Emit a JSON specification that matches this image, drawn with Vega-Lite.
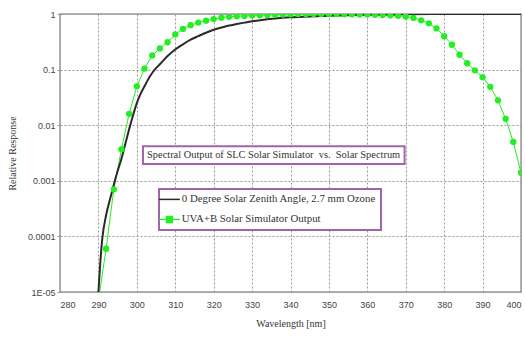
{
  "$schema": "https://vega.github.io/schema/vega-lite/v6.json",
  "width": 461,
  "height": 278,
  "autosize": "none",
  "padding": {"left": 60, "top": 14, "right": 4, "bottom": 45},
  "background": "white",
  "config": {
    "view": {"stroke": "#999", "strokeWidth": 1.5},
    "axis": {
      "grid": true,
      "gridColor": "#999",
      "gridDash": [2, 2],
      "gridWidth": 1,
      "domain": false,
      "tickColor": "#999",
      "tickSize": 3,
      "labelFont": "Liberation Sans",
      "labelFontSize": 9,
      "labelColor": "#444",
      "titleFont": "Liberation Serif",
      "titleFontWeight": "normal",
      "titleFontSize": 10,
      "titleColor": "#333"
    },
    "legend": {
      "orient": "none",
      "legendX": 99,
      "legendY": 175,
      "strokeColor": "#a064ac",
      "fillColor": "white",
      "padding": 5,
      "labelFont": "Liberation Serif",
      "labelFontSize": 10.8,
      "labelColor": "#333",
      "labelLimit": 400,
      "labelOffset": 7,
      "symbolSize": 441,
      "rowPadding": 8
    }
  },
  "datasets": {
    "curves": [
      {"wavelength": 290, "response": 0.00001, "series": "0 Degree Solar Zenith Angle, 2.7 mm Ozone"},
      {"wavelength": 290.5, "response": 0.000035, "series": "0 Degree Solar Zenith Angle, 2.7 mm Ozone"},
      {"wavelength": 291, "response": 0.00009, "series": "0 Degree Solar Zenith Angle, 2.7 mm Ozone"},
      {"wavelength": 292, "response": 0.00024, "series": "0 Degree Solar Zenith Angle, 2.7 mm Ozone"},
      {"wavelength": 293, "response": 0.00046, "series": "0 Degree Solar Zenith Angle, 2.7 mm Ozone"},
      {"wavelength": 294, "response": 0.00085, "series": "0 Degree Solar Zenith Angle, 2.7 mm Ozone"},
      {"wavelength": 295, "response": 0.0015, "series": "0 Degree Solar Zenith Angle, 2.7 mm Ozone"},
      {"wavelength": 296, "response": 0.0025, "series": "0 Degree Solar Zenith Angle, 2.7 mm Ozone"},
      {"wavelength": 297, "response": 0.0046, "series": "0 Degree Solar Zenith Angle, 2.7 mm Ozone"},
      {"wavelength": 298, "response": 0.0085, "series": "0 Degree Solar Zenith Angle, 2.7 mm Ozone"},
      {"wavelength": 299, "response": 0.015, "series": "0 Degree Solar Zenith Angle, 2.7 mm Ozone"},
      {"wavelength": 300, "response": 0.025, "series": "0 Degree Solar Zenith Angle, 2.7 mm Ozone"},
      {"wavelength": 301, "response": 0.037, "series": "0 Degree Solar Zenith Angle, 2.7 mm Ozone"},
      {"wavelength": 302, "response": 0.05, "series": "0 Degree Solar Zenith Angle, 2.7 mm Ozone"},
      {"wavelength": 303, "response": 0.068, "series": "0 Degree Solar Zenith Angle, 2.7 mm Ozone"},
      {"wavelength": 304, "response": 0.087, "series": "0 Degree Solar Zenith Angle, 2.7 mm Ozone"},
      {"wavelength": 305, "response": 0.106, "series": "0 Degree Solar Zenith Angle, 2.7 mm Ozone"},
      {"wavelength": 306, "response": 0.125, "series": "0 Degree Solar Zenith Angle, 2.7 mm Ozone"},
      {"wavelength": 308, "response": 0.175, "series": "0 Degree Solar Zenith Angle, 2.7 mm Ozone"},
      {"wavelength": 310, "response": 0.23, "series": "0 Degree Solar Zenith Angle, 2.7 mm Ozone"},
      {"wavelength": 312, "response": 0.285, "series": "0 Degree Solar Zenith Angle, 2.7 mm Ozone"},
      {"wavelength": 314, "response": 0.345, "series": "0 Degree Solar Zenith Angle, 2.7 mm Ozone"},
      {"wavelength": 316, "response": 0.4, "series": "0 Degree Solar Zenith Angle, 2.7 mm Ozone"},
      {"wavelength": 318, "response": 0.46, "series": "0 Degree Solar Zenith Angle, 2.7 mm Ozone"},
      {"wavelength": 320, "response": 0.52, "series": "0 Degree Solar Zenith Angle, 2.7 mm Ozone"},
      {"wavelength": 322, "response": 0.57, "series": "0 Degree Solar Zenith Angle, 2.7 mm Ozone"},
      {"wavelength": 324, "response": 0.62, "series": "0 Degree Solar Zenith Angle, 2.7 mm Ozone"},
      {"wavelength": 326, "response": 0.66, "series": "0 Degree Solar Zenith Angle, 2.7 mm Ozone"},
      {"wavelength": 328, "response": 0.7, "series": "0 Degree Solar Zenith Angle, 2.7 mm Ozone"},
      {"wavelength": 330, "response": 0.74, "series": "0 Degree Solar Zenith Angle, 2.7 mm Ozone"},
      {"wavelength": 333, "response": 0.79, "series": "0 Degree Solar Zenith Angle, 2.7 mm Ozone"},
      {"wavelength": 336, "response": 0.83, "series": "0 Degree Solar Zenith Angle, 2.7 mm Ozone"},
      {"wavelength": 340, "response": 0.87, "series": "0 Degree Solar Zenith Angle, 2.7 mm Ozone"},
      {"wavelength": 345, "response": 0.9, "series": "0 Degree Solar Zenith Angle, 2.7 mm Ozone"},
      {"wavelength": 350, "response": 0.93, "series": "0 Degree Solar Zenith Angle, 2.7 mm Ozone"},
      {"wavelength": 355, "response": 0.95, "series": "0 Degree Solar Zenith Angle, 2.7 mm Ozone"},
      {"wavelength": 360, "response": 0.97, "series": "0 Degree Solar Zenith Angle, 2.7 mm Ozone"},
      {"wavelength": 365, "response": 0.98, "series": "0 Degree Solar Zenith Angle, 2.7 mm Ozone"},
      {"wavelength": 370, "response": 0.99, "series": "0 Degree Solar Zenith Angle, 2.7 mm Ozone"},
      {"wavelength": 380, "response": 1.0, "series": "0 Degree Solar Zenith Angle, 2.7 mm Ozone"},
      {"wavelength": 390, "response": 1.0, "series": "0 Degree Solar Zenith Angle, 2.7 mm Ozone"},
      {"wavelength": 400, "response": 1.0, "series": "0 Degree Solar Zenith Angle, 2.7 mm Ozone"},
      {"wavelength": 290, "response": 0.000007, "series": "UVA+B Solar Simulator Output"},
      {"wavelength": 292, "response": 0.00006, "series": "UVA+B Solar Simulator Output"},
      {"wavelength": 294, "response": 0.0007, "series": "UVA+B Solar Simulator Output"},
      {"wavelength": 296, "response": 0.0037, "series": "UVA+B Solar Simulator Output"},
      {"wavelength": 298, "response": 0.016, "series": "UVA+B Solar Simulator Output"},
      {"wavelength": 300, "response": 0.05, "series": "UVA+B Solar Simulator Output"},
      {"wavelength": 302, "response": 0.104, "series": "UVA+B Solar Simulator Output"},
      {"wavelength": 304, "response": 0.18, "series": "UVA+B Solar Simulator Output"},
      {"wavelength": 306, "response": 0.24, "series": "UVA+B Solar Simulator Output"},
      {"wavelength": 308, "response": 0.31, "series": "UVA+B Solar Simulator Output"},
      {"wavelength": 310, "response": 0.43, "series": "UVA+B Solar Simulator Output"},
      {"wavelength": 312, "response": 0.54, "series": "UVA+B Solar Simulator Output"},
      {"wavelength": 314, "response": 0.63, "series": "UVA+B Solar Simulator Output"},
      {"wavelength": 316, "response": 0.7, "series": "UVA+B Solar Simulator Output"},
      {"wavelength": 318, "response": 0.76, "series": "UVA+B Solar Simulator Output"},
      {"wavelength": 320, "response": 0.81, "series": "UVA+B Solar Simulator Output"},
      {"wavelength": 322, "response": 0.86, "series": "UVA+B Solar Simulator Output"},
      {"wavelength": 324, "response": 0.89, "series": "UVA+B Solar Simulator Output"},
      {"wavelength": 326, "response": 0.91, "series": "UVA+B Solar Simulator Output"},
      {"wavelength": 328, "response": 0.92, "series": "UVA+B Solar Simulator Output"},
      {"wavelength": 330, "response": 0.94, "series": "UVA+B Solar Simulator Output"},
      {"wavelength": 332, "response": 0.95, "series": "UVA+B Solar Simulator Output"},
      {"wavelength": 334, "response": 0.96, "series": "UVA+B Solar Simulator Output"},
      {"wavelength": 336, "response": 0.97, "series": "UVA+B Solar Simulator Output"},
      {"wavelength": 338, "response": 0.98, "series": "UVA+B Solar Simulator Output"},
      {"wavelength": 340, "response": 0.99, "series": "UVA+B Solar Simulator Output"},
      {"wavelength": 342, "response": 1.0, "series": "UVA+B Solar Simulator Output"},
      {"wavelength": 344, "response": 1.0, "series": "UVA+B Solar Simulator Output"},
      {"wavelength": 346, "response": 1.0, "series": "UVA+B Solar Simulator Output"},
      {"wavelength": 348, "response": 1.0, "series": "UVA+B Solar Simulator Output"},
      {"wavelength": 350, "response": 1.0, "series": "UVA+B Solar Simulator Output"},
      {"wavelength": 352, "response": 1.0, "series": "UVA+B Solar Simulator Output"},
      {"wavelength": 354, "response": 0.99, "series": "UVA+B Solar Simulator Output"},
      {"wavelength": 356, "response": 0.99, "series": "UVA+B Solar Simulator Output"},
      {"wavelength": 358, "response": 0.98, "series": "UVA+B Solar Simulator Output"},
      {"wavelength": 360, "response": 0.98, "series": "UVA+B Solar Simulator Output"},
      {"wavelength": 362, "response": 0.97, "series": "UVA+B Solar Simulator Output"},
      {"wavelength": 364, "response": 0.96, "series": "UVA+B Solar Simulator Output"},
      {"wavelength": 366, "response": 0.95, "series": "UVA+B Solar Simulator Output"},
      {"wavelength": 368, "response": 0.93, "series": "UVA+B Solar Simulator Output"},
      {"wavelength": 370, "response": 0.9, "series": "UVA+B Solar Simulator Output"},
      {"wavelength": 372, "response": 0.85, "series": "UVA+B Solar Simulator Output"},
      {"wavelength": 374, "response": 0.77, "series": "UVA+B Solar Simulator Output"},
      {"wavelength": 376, "response": 0.68, "series": "UVA+B Solar Simulator Output"},
      {"wavelength": 378, "response": 0.55, "series": "UVA+B Solar Simulator Output"},
      {"wavelength": 380, "response": 0.4, "series": "UVA+B Solar Simulator Output"},
      {"wavelength": 382, "response": 0.28, "series": "UVA+B Solar Simulator Output"},
      {"wavelength": 384, "response": 0.185, "series": "UVA+B Solar Simulator Output"},
      {"wavelength": 386, "response": 0.13, "series": "UVA+B Solar Simulator Output"},
      {"wavelength": 388, "response": 0.097, "series": "UVA+B Solar Simulator Output"},
      {"wavelength": 390, "response": 0.073, "series": "UVA+B Solar Simulator Output"},
      {"wavelength": 392, "response": 0.049, "series": "UVA+B Solar Simulator Output"},
      {"wavelength": 394, "response": 0.028, "series": "UVA+B Solar Simulator Output"},
      {"wavelength": 396, "response": 0.013, "series": "UVA+B Solar Simulator Output"},
      {"wavelength": 398, "response": 0.005, "series": "UVA+B Solar Simulator Output"},
      {"wavelength": 400, "response": 0.0014, "series": "UVA+B Solar Simulator Output"}
    ]
  },
  "encoding": {
    "x": {
      "type": "quantitative",
      "scale": {"domain": [280, 400], "nice": false},
      "axis": {
        "title": "Wavelength [nm]",
        "values": [280, 290, 300, 310, 320, 330, 340, 350, 360, 370, 380, 390, 400],
        "labelPadding": 8,
        "titlePadding": 9,
        "tickSize": 0
      }
    },
    "y": {
      "type": "quantitative",
      "scale": {"type": "log", "domain": [0.00001, 1], "nice": false},
      "axis": {
        "title": "Relative Response",
        "values": [0.00001, 0.0001, 0.001, 0.01, 0.1, 1],
        "labelExpr": "datum.value < 0.00005 ? '1E-05' : toString(datum.value)",
        "labelPadding": 2,
        "titleX": -43,
        "titleY": 139
      }
    }
  },
  "layer": [
    {
      "data": {"values": [{}]},
      "mark": {"type": "rect", "fill": "white", "stroke": "#a064ac", "strokeWidth": 2},
      "encoding": {
        "x": {"datum": 301.6, "type": "quantitative"},
        "x2": {"datum": 369.7},
        "y": {"datum": 0.0042, "type": "quantitative"},
        "y2": {"datum": 0.002}
      }
    },
    {
      "data": {"values": [{}]},
      "mark": {"type": "text", "font": "Liberation Serif", "fontSize": 10.4, "color": "#333", "align": "center", "baseline": "middle"},
      "encoding": {
        "x": {"datum": 335.6, "type": "quantitative"},
        "y": {"datum": 0.0029, "type": "quantitative"},
        "text": {"value": "Spectral Output of SLC Solar Simulator \u00a0vs. \u00a0Solar Spectrum"}
      }
    },
    {
      "data": {"name": "curves"},
      "transform": [{"filter": "datum.series === 'UVA+B Solar Simulator Output'"}],
      "mark": {"type": "line", "strokeWidth": 1, "clip": true},
      "encoding": {
        "x": {"field": "wavelength", "type": "quantitative"},
        "y": {"field": "response", "type": "quantitative"},
        "color": {
          "field": "series",
          "type": "nominal",
          "scale": {
            "domain": ["0 Degree Solar Zenith Angle, 2.7 mm Ozone", "UVA+B Solar Simulator Output"],
            "range": ["#2a2a2a", "#22ee22"]
          },
          "legend": {
            "title": null,
            "symbolType": "stroke",
            "encode": {
              "legend": {"enter": {"strokeWidth": {"value": 2}}, "update": {"strokeWidth": {"value": 2}}},
              "symbols": {
                "enter": {
                  "shape": {"signal": "datum.value === 'UVA+B Solar Simulator Output' ? 'M-1,0H1M-0.3,-0.3H0.3V0.3H-0.3Z' : 'M-1,0H1'"},
                  "fill": {"signal": "datum.value === 'UVA+B Solar Simulator Output' ? '#22ee22' : 'transparent'"}
                },
                "update": {
                  "shape": {"signal": "datum.value === 'UVA+B Solar Simulator Output' ? 'M-1,0H1M-0.3,-0.3H0.3V0.3H-0.3Z' : 'M-1,0H1'"},
                  "fill": {"signal": "datum.value === 'UVA+B Solar Simulator Output' ? '#22ee22' : 'transparent'"},
                  "strokeWidth": {"signal": "datum.value === 'UVA+B Solar Simulator Output' ? 1.2 : 1.5"},
                  "opacity": {"value": 1}
                }
              }
            }
          }
        }
      }
    },
    {
      "data": {"name": "curves"},
      "transform": [{"filter": "datum.series !== 'UVA+B Solar Simulator Output'"}],
      "mark": {"type": "line", "strokeWidth": 2, "interpolate": "monotone", "clip": true},
      "encoding": {
        "x": {"field": "wavelength", "type": "quantitative"},
        "y": {"field": "response", "type": "quantitative"},
        "color": {"field": "series", "type": "nominal"}
      }
    },
    {
      "data": {"name": "curves"},
      "transform": [{"filter": "datum.series === 'UVA+B Solar Simulator Output' && datum.response >= 0.00001"}],
      "mark": {"type": "point", "shape": "circle", "filled": true, "size": 40, "opacity": 1, "clip": true},
      "encoding": {
        "x": {"field": "wavelength", "type": "quantitative"},
        "y": {"field": "response", "type": "quantitative"},
        "color": {"field": "series", "type": "nominal"}
      }
    }
  ]
}
